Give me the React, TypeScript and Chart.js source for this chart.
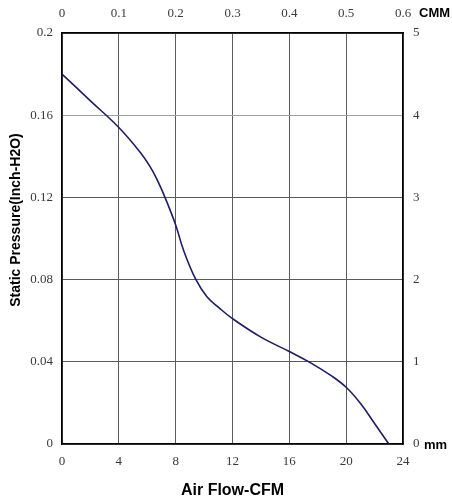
import React, { useEffect, useRef } from "react";
import { Chart, registerables } from "chart.js";

Chart.register(...registerables);

// Air flow (CFM) vs static pressure (Inch-H2O)
const airflowCFM = [0, 2, 4, 5.5, 6.2, 6.7, 7.25, 8, 8.55, 9.4, 10.2, 11.1, 12, 14, 16, 17.5, 19, 20, 21, 22, 23];
const pressureInH2O = [0.18, 0.167, 0.154, 0.142, 0.135, 0.1285, 0.12, 0.1066, 0.0944, 0.0803, 0.0717, 0.066, 0.061, 0.052, 0.045, 0.0395, 0.033, 0.0276, 0.0198, 0.01, 0];

const cfmRange = [0, 24];
const cfmStep = 4;
const cmmRange = [0, 0.6];
const cmmStep = 0.1;
const pressureRange = [0, 0.2];
const pressureStep = 0.04;
const mmRange = [0, 5];
const mmStep = 1;

const xTitle = "Air Flow-CFM";
const yTitle = "Static Pressure(Inch-H2O)";
const topUnit = "CMM";
const rightUnit = "mm";

const tickFont = { family: "'Liberation Serif', 'DejaVu Serif', serif", size: 13 };
const titleFont = { family: "'Liberation Sans', Arial, sans-serif", size: 16, weight: "bold" as const };
const tickColor = "#3a3a3a";

const fmt = (v: any) => String(+Number(v).toFixed(2));

const extraLabels = {
  id: "extraLabels",
  afterDraw(chart: any) {
    const ctx = chart.ctx;
    const { top, bottom, right } = chart.chartArea;
    ctx.save();
    ctx.font = "bold 13px 'Liberation Sans', Arial, sans-serif";
    ctx.fillStyle = "#000";
    ctx.textAlign = "left";
    ctx.textBaseline = "middle";
    ctx.fillText(topUnit, right + 16, top - 20);
    ctx.fillText(rightUnit, right + 21, bottom + 1);
    // y axis title
    ctx.translate(16, 220);
    ctx.rotate(-Math.PI / 2);
    ctx.textAlign = "center";
    ctx.font = "bold 14px 'Liberation Sans', Arial, sans-serif";
    ctx.fillText(yTitle, 0, 0);
    ctx.restore();
  },
};

function fixSize(w: number | null, h: number | null) {
  return (scale: any) => {
    if (w !== null) scale.width = w;
    if (h !== null) scale.height = h;
  };
}

export default function App() {
  const ref = useRef<HTMLCanvasElement | null>(null);

  useEffect(() => {
    document.body.style.margin = "0";
    const canvas = ref.current;
    if (!canvas) return;
    const chart = new Chart(canvas, {
      type: "line",
      data: {
        datasets: [
          {
            data: airflowCFM.map((x, i) => ({ x, y: pressureInH2O[i] })),
            borderColor: "#1c1c6e",
            borderWidth: 1.6,
            pointRadius: 0,
            fill: false,
            tension: 0.4,
            xAxisID: "x",
            yAxisID: "y",
          },
        ],
      },
      plugins: [extraLabels],
      options: {
        responsive: false,
        animation: false,
        events: [],
        layout: { padding: 0 },
        plugins: { legend: { display: false }, tooltip: { enabled: false } },
        scales: {
          x: {
            type: "linear",
            position: "bottom",
            min: cfmRange[0],
            max: cfmRange[1],
            afterFit: fixSize(null, 58),
            ticks: { stepSize: cfmStep, font: tickFont, color: tickColor, padding: 10, maxRotation: 0, callback: fmt },
            grid: { color: "#5a5a5a", lineWidth: 1, drawTicks: false },
            border: { display: true, color: "#000", width: 1.5 },
            title: { display: true, text: xTitle, font: titleFont, color: "#000", padding: { top: 0, bottom: 2 } },
          },
          x2: {
            type: "linear",
            position: "top",
            min: cmmRange[0],
            max: cmmRange[1],
            afterFit: fixSize(null, 33),
            ticks: { stepSize: cmmStep, font: tickFont, color: tickColor, padding: 12, maxRotation: 0, callback: fmt },
            grid: { display: false, drawTicks: false },
            border: { display: true, color: "#000", width: 1.5 },
          },
          y: {
            type: "linear",
            position: "left",
            min: pressureRange[0],
            max: pressureRange[1],
            afterFit: fixSize(62, null),
            ticks: { stepSize: pressureStep, font: tickFont, color: tickColor, padding: 9, callback: fmt },
            grid: {
              color: (c: any) => (Math.abs(c.tick?.value - 0.16) < 1e-9 ? "#a0a0a0" : "#5a5a5a"),
              lineWidth: 1,
              drawTicks: false,
            },
            border: { display: true, color: "#000", width: 1.5 },
          },
          y2: {
            type: "linear",
            position: "right",
            min: mmRange[0],
            max: mmRange[1],
            afterFit: fixSize(49, null),
            ticks: { stepSize: mmStep, font: tickFont, color: tickColor, padding: 10, callback: fmt },
            grid: { display: false, drawTicks: false },
            border: { display: true, color: "#000", width: 1.5 },
          },
        },
      },
    } as any);
    return () => chart.destroy();
  }, []);

  return (
    <div style={{ position: "absolute", left: 0, top: 0, width: 452, height: 502, background: "#fff" }}>
      <canvas ref={ref} width={452} height={502} style={{ display: "block", width: 452, height: 502 }} />
    </div>
  );
}
